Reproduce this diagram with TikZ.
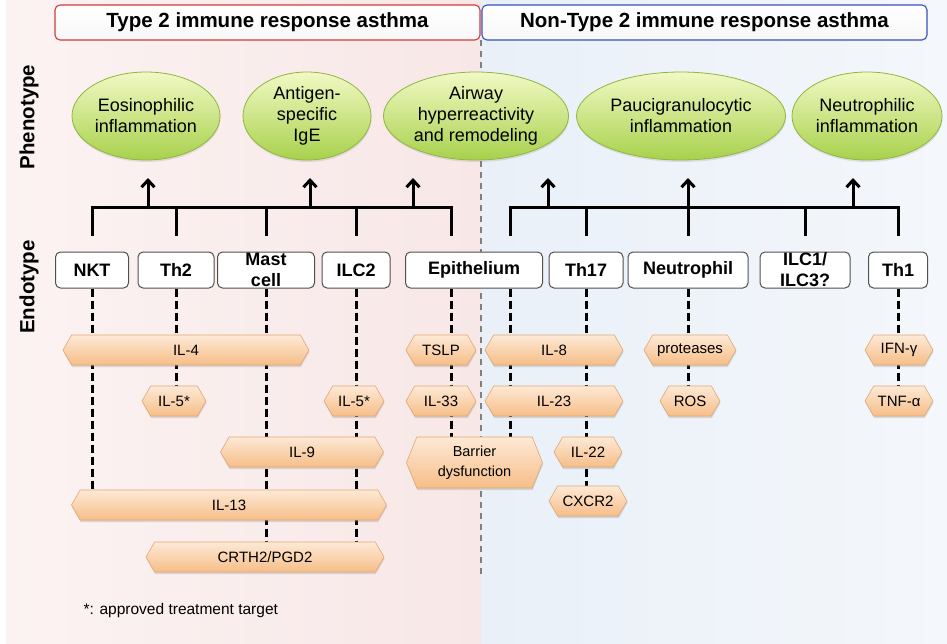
\documentclass[tikz,border=0pt]{standalone}
\usepackage{fontspec}
\setmainfont{Liberation Sans}
\usetikzlibrary{shapes.geometric,shapes.symbols,shadows,arrows.meta,backgrounds}

\definecolor{hexTop}{HTML}{FDE9D6}
\definecolor{hexBot}{HTML}{F6BE88}
\definecolor{hexLine}{HTML}{E2A673}
\definecolor{ellTop}{HTML}{F1F9C4}
\definecolor{ellBot}{HTML}{A8D14C}
\definecolor{ellLine}{HTML}{8FB63E}
\definecolor{pinkA}{HTML}{FBF3F2}
\definecolor{pinkB}{HTML}{F8E7E7}
\definecolor{blueA}{HTML}{E9F0F8}
\definecolor{blueB}{HTML}{F4F7FB}
\definecolor{headRed}{HTML}{D23A3A}
\definecolor{headBlue}{HTML}{3650C0}
\definecolor{boxLine}{HTML}{505050}

\newcommand{\fsHead}{\fontsize{20.5}{24}\selectfont\bfseries}
\newcommand{\fsPheno}{\fontsize{18}{21}\selectfont}
\newcommand{\fsEndo}{\fontsize{18}{21}\selectfont\bfseries}
\newcommand{\fsCyto}{\fontsize{15}{19}\selectfont}
\newcommand{\fsNote}{\fontsize{15.5}{18}\selectfont}

\begin{document}
\begin{tikzpicture}[x=1pt,y=-1pt,
	head/.style={rounded corners=5pt, line width=1.1pt, top color=white, bottom color=gray!6, minimum height=35pt, inner sep=0pt, font=\fsHead},
	pheno/.style={ellipse, draw=ellLine, line width=0.8pt, top color=ellTop, bottom color=ellBot, minimum height=88pt, inner sep=0pt, align=center, font=\fsPheno, drop shadow={shadow xshift=0.5pt, shadow yshift=-2pt, opacity=0.2}},
	endo/.style={draw=boxLine, line width=1pt, rounded corners=5pt, fill=white, minimum height=36pt, inner sep=0pt, align=center, font=\fsEndo},
	cyto/.style={signal, signal to=west and east, signal pointer angle=120, draw=hexLine, line width=0.6pt, top color=hexTop, bottom color=hexBot, minimum height=30pt, inner sep=0pt, align=center, font=\fsCyto, drop shadow={shadow xshift=0.5pt, shadow yshift=-2pt, opacity=0.25}},
	dashlink/.style={line width=3pt, dash pattern=on 8pt off 4pt},
	stem/.style={line width=3pt},
	uparrow/.style={line width=3pt, -{Straight Barb[length=7pt, width=13pt]}},
]
	\useasboundingbox (0,0) rectangle (947,643);
	\begin{scope}[on background layer]
		\fill[white] (0,0) rectangle (947,643);
		\fill[left color=pinkA, right color=pinkB] (6,0) rectangle (481,643);
		\fill[left color=blueA, right color=blueB] (481,0) rectangle (947,643);
		\draw[gray, line width=1.1pt, dash pattern=on 6pt off 5pt] (481,40) -- (481,575);
	\end{scope}

	% headers
	\node[head, draw=headRed, minimum width=425pt] (typetwo) at (267.5,22.5) {Type 2 immune response asthma};
	\node[head, draw=headBlue, minimum width=445pt] (nontypetwo) at (704.5,22.5) {Non-Type 2 immune response asthma};
	\node[rotate=90, font=\fsHead] (phenotype) at (29,117) {Phenotype};
	\node[rotate=90, font=\fsHead] (endotype) at (29,287) {Endotype};

	% phenotypes
	\node[pheno, minimum width=148pt] (eos) at (146,116) {Eosinophilic\\inflammation};
	\node[pheno, minimum width=128pt] (ige) at (307,116) {Antigen-\\specific\\IgE};
	\node[pheno, minimum width=185pt] (ahr) at (476,116) {Airway\\hyperreactivity\\and remodeling};
	\node[pheno, minimum width=209pt] (pauci) at (681,116) {Paucigranulocytic\\inflammation};
	\node[pheno, minimum width=150pt] (neut) at (867,116) {Neutrophilic\\inflammation};

	% endotypes
	\node[endo, minimum width=73pt] (nkt) at (92,270) {NKT};
	\node[endo, minimum width=76pt] (thtwo) at (176,270) {Th2};
	\node[endo, minimum width=97pt] (mast) at (266,270) {Mast\\cell};
	\node[endo, minimum width=68pt] (ilctwo) at (356,270) {ILC2};
	\node[endo, minimum width=137pt] (epi) at (474,270) {Epithelium};
	\node[endo, minimum width=74pt] (thseventeen) at (586,270) {Th17};
	\node[endo, minimum width=120pt] (neutro) at (688,270) {Neutrophil};
	\node[endo, minimum width=90pt] (ilcone) at (805,270) {ILC1/\\ILC3?};
	\node[endo, minimum width=59pt] (thone) at (898,270) {Th1};

	% bars and arrows
	\coordinate (bar) at (0,207);
	\coordinate (tipA) at (148,178);
	\coordinate (tipB) at (310,178);
	\coordinate (tipC) at (413,178);
	\coordinate (tipD) at (548,178);
	\coordinate (tipE) at (688,178);
	\coordinate (tipF) at (853,178);
	\draw[stem] ([yshift=16pt]nkt.north) -- (nkt.north |- bar) -- ([xshift=-23pt]epi.north |- bar) -- ([xshift=-23pt,yshift=16pt]epi.north);
	\foreach \n in {thtwo,mast,ilctwo}
		\draw[stem] ([yshift=16pt]\n.north) -- (\n.north |- bar);
	\draw[stem] ([xshift=36pt,yshift=16pt]epi.north) -- ([xshift=36pt]epi.north |- bar) -- (thone.north |- bar) -- ([yshift=16pt]thone.north);
	\foreach \n in {thseventeen,ilcone}
		\draw[stem] ([yshift=16pt]\n.north) -- (\n.north |- bar);
	\foreach \t in {tipA,tipB,tipC,tipD,tipF}
		\draw[uparrow] (\t |- bar) -- (\t);
	\draw[uparrow] ([yshift=16pt]neutro.north) -- (neutro.north |- tipE);

	% cytokines
	\node[cyto, minimum width=246pt] (ilfour) at (186,350) {IL-4};
	\node[cyto, minimum width=70pt] (tslp) at (441,350) {TSLP};
	\node[cyto, minimum width=138pt] (ileight) at (554,350) {IL-8};
	\node[cyto, minimum width=92pt] (prot) at (690,350) {proteases};
	\node[cyto, minimum width=68pt] (ifng) at (899,350) {IFN-γ};
	\node[cyto, minimum width=64pt] (ilfivea) at (174,401) {IL-5*};
	\node[cyto, minimum width=60pt] (ilfiveb) at (354,401) {IL-5*};
	\node[cyto, minimum width=70pt] (ilthirtythree) at (441,401) {IL-33};
	\node[cyto, minimum width=138pt] (iltwentythree) at (554,401) {IL-23};
	\node[cyto, minimum width=60pt] (ros) at (690,401) {ROS};
	\node[cyto, minimum width=68pt] (tnf) at (899,401) {TNF-α};
	\node[cyto, minimum width=163pt] (ilnine) at (302,452) {IL-9};
	\node[cyto, minimum width=136pt, minimum height=51pt, signal pointer angle=136, font=\fontsize{14.5}{20}\selectfont] (barrier) at (474.5,462.5) {Barrier\\dysfunction};
	\node[cyto, minimum width=68pt] (iltwentytwo) at (588,452) {IL-22};
	\node[cyto, minimum width=315pt] (ilthirteen) at (229,505) {IL-13};
	\node[cyto, minimum width=78pt] (cxcr) at (588,501) {CXCR2};
	\node[cyto, minimum width=238pt] (crth) at (265,557) {CRTH2/PGD2};

	\begin{scope}[on background layer]
		\draw[dashlink] (nkt.south) -- (nkt.south |- ilthirteen.north);
		\draw[dashlink] (thtwo.south) -- (thtwo.south |- ilfivea.north);
		\draw[dashlink] (mast.south) -- (mast.south |- crth.north);
		\draw[dashlink] (ilctwo.south) -- (ilctwo.south |- crth.north);
		\draw[dashlink] ([xshift=-23pt]epi.south) -- ([xshift=-23pt]epi.south |- barrier.north);
		\draw[dashlink] ([xshift=36pt]epi.south) -- ([xshift=36pt]epi.south |- barrier.north);
		\draw[dashlink] (thseventeen.south) -- (thseventeen.south |- cxcr.north);
		\draw[dashlink] (neutro.south) -- (neutro.south |- ros.north);
		\draw[dashlink] (thone.south) -- (thone.south |- tnf.north);
	\end{scope}

	\node[anchor=west, font=\fsNote] (note) at (80,610) {*: approved treatment target};
\end{tikzpicture}
\end{document}
